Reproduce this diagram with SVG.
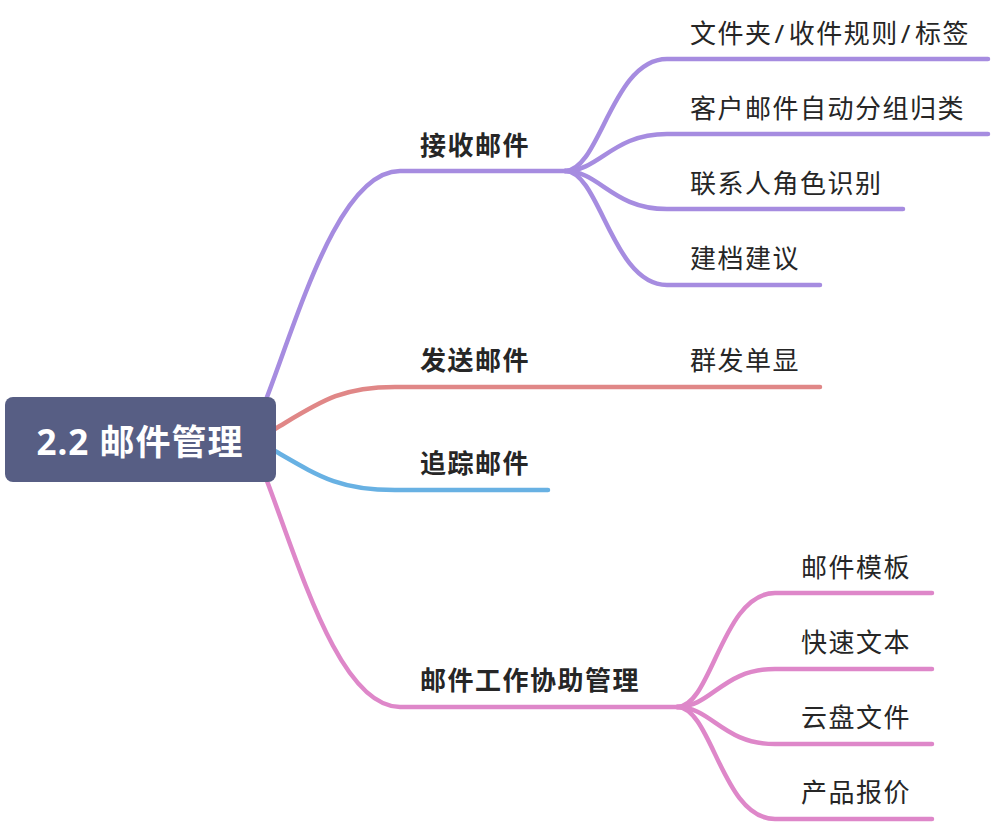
<svg xmlns="http://www.w3.org/2000/svg" width="992" height="824" viewBox="0 0 992 824">
<style>
.ln{fill:none;stroke-width:4.5;stroke-linecap:round;stroke-linejoin:round}
.p{stroke:#a68ce0}.r{stroke:#e08787}.b{stroke:#68b1e3}.k{stroke:#de87c9}
.t{font-family:"Noto Sans","Noto Sans CJK SC",sans-serif;fill:#262626}
.c{font-size:26px;letter-spacing:1.5px}
.m{font-size:26px;font-weight:bold;letter-spacing:1.5px}
.root{font-size:35px;font-weight:bold;fill:#ffffff;letter-spacing:1px}
</style>
<rect width="992" height="824" fill="#ffffff"/>
<g id="connectors">
<path class="ln p" d="M267 397 C300 310,340 171,400 171 H565"/>
<path class="ln r" d="M275 429 C320 402,340 387,395 387 H820"/>
<path class="ln b" d="M275 451 C320 477,340 490,395 490 H548"/>
<path class="ln k" d="M267 481 C300 568,340 707,400 707 H677"/>
<path class="ln p" d="M565 171 C600 171,612 59,667 59 H988"/>
<path class="ln p" d="M565 171 C600 171,612 134,667 134 H988"/>
<path class="ln p" d="M565 171 C600 171,612 209,667 209 H903"/>
<path class="ln p" d="M565 171 C600 171,612 285,667 285 H820"/>
<path class="ln k" d="M677 707 C712 707,722 593,775 593 H932"/>
<path class="ln k" d="M677 707 C712 707,722 669,775 669 H932"/>
<path class="ln k" d="M677 707 C712 707,722 744,775 744 H932"/>
<path class="ln k" d="M677 707 C712 707,722 819,775 819 H932"/>
</g>
<g id="root">
<rect x="5" y="397" width="271" height="85" rx="8" fill="#575e84"/>
<text class="t root" x="140" y="455" text-anchor="middle">2.2 邮件管理</text>
</g>
<g id="receive"><text class="t m" x="420" y="155">接收邮件</text></g>
<g id="send"><text class="t m" x="420" y="370">发送邮件</text></g>
<g id="track"><text class="t m" x="420" y="473">追踪邮件</text></g>
<g id="collab"><text class="t m" x="420" y="690">邮件工作协助管理</text></g>
<g id="r1"><text class="t c" x="690" y="43">文件夹<tspan dx="2">/</tspan><tspan dx="3">收件规则</tspan><tspan dx="2">/</tspan><tspan dx="3">标签</tspan></text></g>
<g id="r2"><text class="t c" x="690" y="118">客户邮件自动分组归类</text></g>
<g id="r3"><text class="t c" x="690" y="193">联系人角色识别</text></g>
<g id="r4"><text class="t c" x="690" y="268">建档建议</text></g>
<g id="s1"><text class="t c" x="690" y="370">群发单显</text></g>
<g id="c1"><text class="t c" x="801" y="577">邮件模板</text></g>
<g id="c2"><text class="t c" x="801" y="652">快速文本</text></g>
<g id="c3"><text class="t c" x="801" y="727">云盘文件</text></g>
<g id="c4"><text class="t c" x="801" y="802">产品报价</text></g>
</svg>
